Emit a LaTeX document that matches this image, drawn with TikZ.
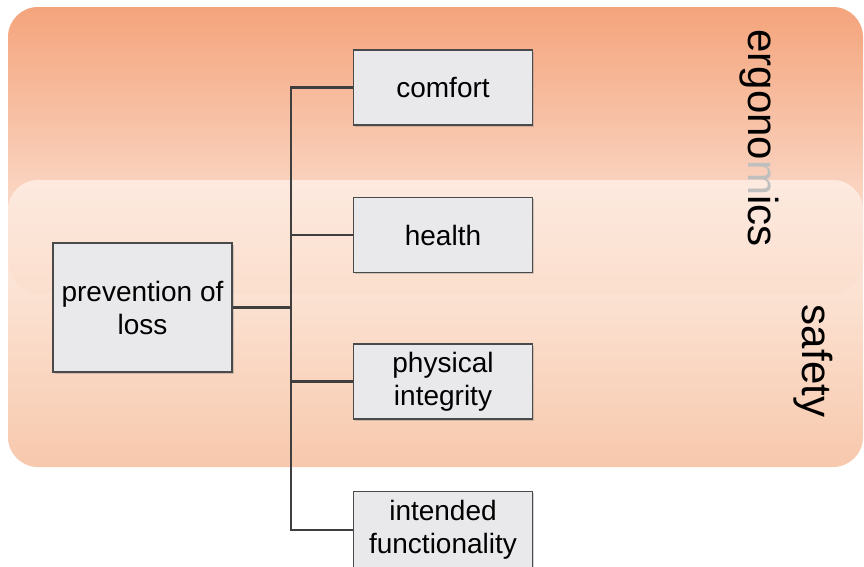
\documentclass[tikz,border=0pt]{standalone}
\usepackage{fontspec}
\setmainfont{Liberation Sans}
\usetikzlibrary{shadows}
\definecolor{ergTop}{HTML}{F4A47C}
\definecolor{ergMid}{HTML}{F8C7AC}
\definecolor{ergBot}{HTML}{FDEEE6}
\definecolor{safTop}{HTML}{FEF0E8}
\definecolor{safBot}{HTML}{F6BB98}
\definecolor{boxfill}{HTML}{E9E9EB}
\definecolor{boxline}{HTML}{4A4A4A}
\definecolor{connc}{HTML}{3F3F3F}
\tikzset{
  itembox/.style={draw=boxline, line width=1.6pt, fill=boxfill, minimum width=179pt, inner sep=0pt,
    align=center, font=\fontsize{28}{33}\selectfont,
    drop shadow={opacity=0.35, shadow xshift=1.5pt, shadow yshift=-1.5pt}},
  conn/.style={draw=connc, line width=2.2pt},
  bandlabel/.style={rotate=-90, anchor=base, font=\fontsize{42}{48}\selectfont}
}
\begin{document}
\begin{tikzpicture}[x=1pt,y=-1pt]
\useasboundingbox (0,0) rectangle (864,566);
\fill[white] (0,0) rectangle (864,566);
% bands
\shade[top color=ergTop, middle color=ergMid, bottom color=ergBot, rounded corners=30pt] (8,7) rectangle (863,293);
\shade[top color=safTop, bottom color=safBot, rounded corners=30pt, fill opacity=0.8, opacity=0.8] (8,180) rectangle (863,467);
% band labels
\node[bandlabel] (ergo) at (748,138) {ergono{\color{black!25}m}ics};
\node[bandlabel] (safe) at (802,361) {safety};
% boxes
\node[itembox, minimum height=75pt] (comfort) at (443,87.5) {comfort};
\node[itembox, minimum height=75pt] (health) at (443,235) {health};
\node[itembox, minimum height=75pt] (phys) at (443,381.5) {physical\\integrity};
\node[itembox, minimum height=77pt] (intended) at (443,530) {intended\\functionality};
\node[itembox, minimum height=129pt] (prev) at (142.5,307.5) {prevention of\\loss};
% connectors
\coordinate (t) at (291,0);
\draw[conn] (comfort.west) -- (comfort.west -| t) -- (intended.west -| t) -- (intended.west);
\draw[conn] (health.west) -- (health.west -| t);
\draw[conn] (phys.west) -- (phys.west -| t);
\draw[conn] (prev.east) -- (prev.east -| t);
\end{tikzpicture}
\end{document}
